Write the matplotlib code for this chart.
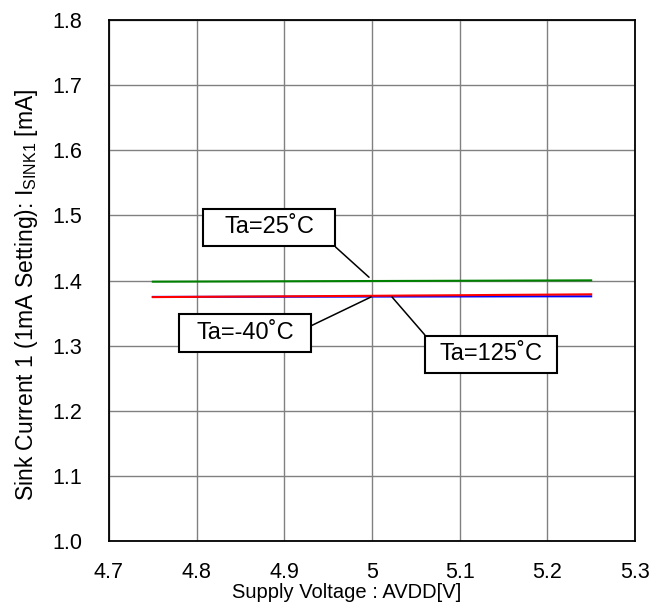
import matplotlib
matplotlib.use("Agg")
import matplotlib.pyplot as plt
from matplotlib.path import Path

plt.rcParams['font.family'] = ['Liberation Sans', 'DejaVu Sans']
plt.rcParams['mathtext.fontset'] = 'custom'
plt.rcParams['mathtext.rm'] = 'Liberation Sans'

voltage = [4.75, 4.80, 4.85, 4.90, 4.95, 5.00, 5.05, 5.10, 5.15, 5.20, 5.25]
i_m40 = [1.3748, 1.3749, 1.3750, 1.3751, 1.3752, 1.3753, 1.3754, 1.3755, 1.3756, 1.3757, 1.3757]
i_25 = [1.3982, 1.3984, 1.3986, 1.3988, 1.3990, 1.3992, 1.3994, 1.3996, 1.3998, 1.4000, 1.4002]
i_125 = [1.3745, 1.3749, 1.3753, 1.3757, 1.3761, 1.3765, 1.3770, 1.3774, 1.3779, 1.3783, 1.3788]

xticks = [4.7, 4.8, 4.9, 5.0, 5.1, 5.2, 5.3]
xtick_labels = ["4.7", "4.8", "4.9", "5", "5.1", "5.2", "5.3"]
yticks = [1.0, 1.1, 1.2, 1.3, 1.4, 1.5, 1.6, 1.7, 1.8]
ytick_labels = ["1.0", "1.1", "1.2", "1.3", "1.4", "1.5", "1.6", "1.7", "1.8"]

W, H = 668, 612
fig = plt.figure(figsize=(6.68, 6.12), dpi=100)
ax = fig.add_axes([109 / W, 1 - 541 / H, 526 / W, 521 / H])

ax.plot(voltage, i_m40, color='#0000FF', lw=1.5, zorder=3)
ax.plot(voltage, i_25, color='#008000', lw=1.5, zorder=3)
ax.plot(voltage, i_125, color='#FF0000', lw=1.5, zorder=4)

ax.set_xlim(4.7, 5.3)
ax.set_ylim(1.0, 1.8)
ax.set_xticks(xticks)
ax.set_xticklabels(xtick_labels)
ax.set_yticks(yticks)
ax.set_yticklabels(ytick_labels)
ax.tick_params(length=0, labelsize=15.5)
ax.tick_params(axis='x', pad=15)
ax.tick_params(axis='y', pad=19)
ax.grid(True, color='#808080', lw=1.0)
ax.set_axisbelow(True)
for s in ax.spines.values():
    s.set_linewidth(1.3)
    s.set_color('black')

fig.text(347 / W, 1 - 598 / H, "Supply Voltage : AVDD[V]", fontsize=14.5,
         ha='center', va='baseline')
fig.text(33 / W, 1 - 295 / H, r"Sink Current 1 (1mA Setting): I$_{\mathregular{SINK1}}$ [mA]",
         fontsize=16.5, ha='center', va='baseline', rotation=90, rotation_mode='anchor')


def fixed_box(x0, y0, width, height, mutation_size):
    bw = 5.59 * mutation_size
    pady = 0.33 * mutation_size
    cx = x0 + width / 2
    left, right = cx - bw / 2, cx + bw / 2
    bottom, top = y0 - pady, y0 + height + pady
    return Path([(left, bottom), (right, bottom), (right, top), (left, top), (left, bottom)],
                closed=True)


bbox = dict(boxstyle=fixed_box, fc='white', ec='black', lw=1.5)
arrow = dict(arrowstyle='-', color='black', lw=1.1, shrinkA=0, shrinkB=0)
fs = 17

ax.annotate("Ta=25˚C", xy=(4.9966, 1.405), xytext=(4.8825, 1.4814), fontsize=fs,
            ha='center', va='center', bbox=bbox, arrowprops=dict(arrow, relpos=(1, 0.5)), zorder=5)
ax.annotate("Ta=-40˚C", xy=(4.9989, 1.3747), xytext=(4.8551, 1.3194), fontsize=fs,
            ha='center', va='center', bbox=bbox, arrowprops=dict(arrow, relpos=(1, 0.45)), zorder=5)
ax.annotate("Ta=125˚C", xy=(5.0228, 1.3747), xytext=(5.1357, 1.2864), fontsize=fs,
            ha='center', va='center', bbox=bbox, arrowprops=dict(arrow, relpos=(0, 0.62)), zorder=5)

fig.savefig("out.png", dpi=100)
